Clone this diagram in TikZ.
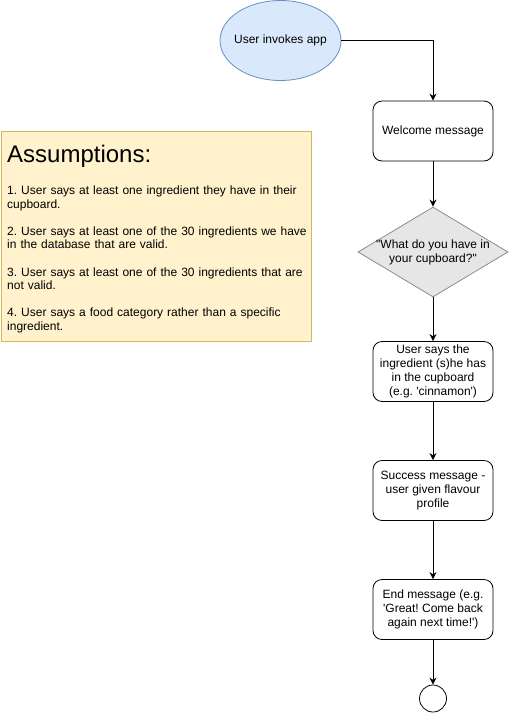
\documentclass[tikz,border=0pt]{standalone}
\usepackage{fontspec}
\setmainfont{Liberation Sans}
\usetikzlibrary{shapes.geometric,arrows.meta}
\definecolor{ellfill}{HTML}{DAE8FC}
\definecolor{ellline}{HTML}{6C8EBF}
\definecolor{notefill}{HTML}{FFF2CC}
\definecolor{noteline}{HTML}{D6B656}
\definecolor{diafill}{HTML}{E6E6E6}
\definecolor{dialine}{HTML}{8C8C8C}
\frenchspacing
\tikzset{
  txt/.style={font=\fontsize{12}{13.8}\selectfont},
  stepbox/.style={txt, draw=black, line width=0.8pt, rounded corners=9pt, minimum width=120pt, minimum height=60pt, align=center, inner sep=2pt},
  flow/.style={draw=black, line width=0.8pt, -{Stealth[length=7pt,width=7pt]}},
}
\begin{document}
\begin{tikzpicture}[x=1pt,y=-1pt]
\useasboundingbox (0,0) rectangle (509,713);
% start ellipse
\node (start) [ellipse, draw=ellline, line width=0.8pt, fill=ellfill, minimum width=121pt, minimum height=80pt, inner sep=0pt] at (280.5,40.5) {};
\node (starttext) [txt, inner sep=0pt] at (start) {User invokes app};
% assumptions note
\node (note) [draw=noteline, line width=0.8pt, fill=notefill, minimum width=310pt, minimum height=210pt, inner sep=0pt, anchor=north west] at (1,131) {};
\node (title) [anchor=base west, inner sep=0pt, font=\fontsize{24}{28}\selectfont] at (7,162) {Assumptions:};
\node (body) [anchor=north west, inner sep=0pt, text width=302pt, align=left, font=\fontsize{12}{13.6}\selectfont] at (7,185.5) {1. User says at least one ingredient they have in their\\cupboard.\\[13.6pt]2. User says at least one of the 30 ingredients we have\\in the database that are valid.\\[13.6pt]3. User says at least one of the 30 ingredients that are\\not valid.\\[13.6pt]4. User says a food category rather than a specific\\ingredient.};
% flow boxes
\node (welcome) [stepbox] at (433,131) {Welcome message};
\node (q) [diamond, draw=dialine, line width=0.8pt, fill=diafill, minimum width=150pt, minimum height=90pt, inner sep=0pt] at (433,252) {};
\node (qtext) [txt, align=center, inner sep=0pt] at (q) {\textquotedbl What do you have in\\your cupboard?\textquotedbl};
\node (says) [stepbox] at (433,371.5) {User says the\\ingredient (s)he has\\in the cupboard\\(e.g. \textquotesingle cinnamon\textquotesingle)};
\node (success) [stepbox] at (433,490.5) {Success message -\\user given flavour\\profile};
\node (endmsg) [stepbox] at (433,609.5) {End message (e.g.\\\textquotesingle Great! Come back\\again next time!\textquotesingle)};
\node (endc) [circle, draw=black, line width=0.8pt, minimum size=27pt, inner sep=0pt] at (433,698.5) {};
% connectors
\draw[flow] (start.east) -| (welcome.north);
\draw[flow] (welcome.south) -- (q.north);
\draw[flow] (q.south) -- (says.north);
\draw[flow] (says.south) -- (success.north);
\draw[flow] (success.south) -- (endmsg.north);
\draw[flow] (endmsg.south) -- (endc.north);
\end{tikzpicture}
\end{document}
